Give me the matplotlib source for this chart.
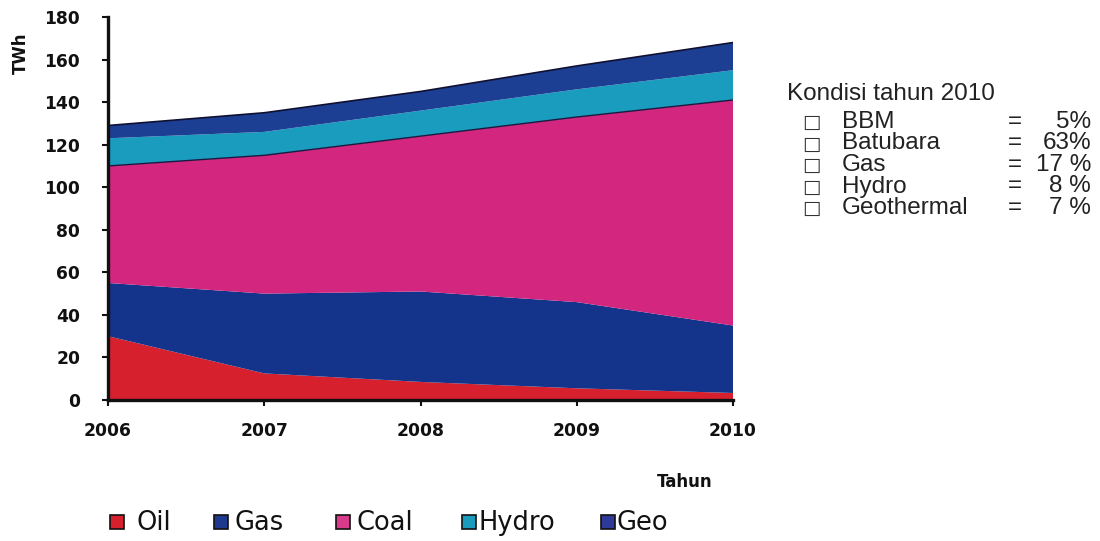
import matplotlib
matplotlib.use("Agg")
import matplotlib.pyplot as plt
from matplotlib.patches import Rectangle
import numpy as np

# ---- data ----
years = [2006, 2007, 2008, 2009, 2010]
oil = [30, 12.5, 8.5, 5.5, 3.3]
gas = [25, 37.5, 42.5, 40.5, 31.7]
coal = [55, 65, 73, 87, 106]
hydro = [13, 11, 12, 13, 14]
geo = [6, 9, 9, 11, 13]
series_names = ["Oil", "Gas", "Coal", "Hydro", "Geo"]
colors = ["#d7202e", "#14338a", "#d2267f", "#1a9cbf", "#1c3f94"]
legend_colors = ["#d7202e", "#1d3a8f", "#d93a8c", "#1a9cbf", "#2d3a9a"]
yticks = [0, 20, 40, 60, 80, 100, 120, 140, 160, 180]

info_title = "Kondisi tahun 2010"
info_labels = ["BBM", "Batubara", "Gas", "Hydro", "Geothermal"]
info_values = ["5%", "63%", "17 %", "8 %", "7 %"]

W, H = 1100, 541
fig = plt.figure(figsize=(W / 100, H / 100), dpi=100)

def fx(px):
    return px / W

def fy(py):
    return (H - py) / H

ax = fig.add_axes([fx(108), fy(400), fx(733) - fx(108), fy(17) - fy(400)])
ax.stackplot(years, oil, gas, coal, hydro, geo, colors=colors, linewidth=0)
cum = np.cumsum(np.array([oil, gas, coal, hydro, geo]), axis=0)
ax.plot(years, cum[2], color="#1a1a40", lw=1.0)
ax.plot(years, cum[4], color="#101030", lw=1.2)

ax.set_xlim(2006, 2010)
ax.set_ylim(0, 180)
ax.set_xticks(years)
ax.set_yticks(yticks)
for s in ["top", "right"]:
    ax.spines[s].set_visible(False)
for s in ["left", "bottom"]:
    ax.spines[s].set_linewidth(2.4)
    ax.spines[s].set_color("#111111")
ax.tick_params(axis="y", length=4, width=1.5, pad=16, labelsize=12.3, colors="#111111")
ax.tick_params(axis="x", length=4, width=1.5, pad=12, labelsize=12.3, colors="#111111")
for lab in ax.get_xticklabels() + ax.get_yticklabels():
    lab.set_fontweight("heavy")
ax.set_zorder(2)

fig.text(fx(21), fy(53), "TWh", rotation=90, ha="center", va="center",
         fontsize=12, fontweight="heavy", color="#111111")
fig.text(fx(685), fy(482), "Tahun", ha="center", va="center",
         fontsize=12, fontweight="heavy", color="#111111")

# bottom legend
sq_x = [110, 214, 336, 462, 601]
txt_x = [136, 235, 357, 479, 617]
for name, c, sx, tx in zip(series_names, legend_colors, sq_x, txt_x):
    fig.patches.append(Rectangle((fx(sx), fy(529)), fx(14), 14 / H,
                                 transform=fig.transFigure, facecolor=c,
                                 edgecolor="#111111", lw=1.2))
    fig.text(fx(tx), fy(530), name, ha="left", va="baseline",
             fontsize=18.5, color="#111111", family="DejaVu Sans")

# right info block
fs = 17.5
fig.text(fx(787), fy(100), info_title, ha="left", va="baseline",
         fontsize=fs, family="Liberation Sans", color="#222222")
base = [128, 149.5, 171, 192.5, 214]
for lab, val, b in zip(info_labels, info_values, base):
    fig.text(fx(802), fy(b), "\u25a1", ha="left", va="baseline",
             fontsize=14, family="DejaVu Sans", color="#333333")
    fig.text(fx(842), fy(b), lab, ha="left", va="baseline",
             fontsize=fs, family="Liberation Sans", color="#222222")
    fig.text(fx(1008), fy(b), "=", ha="left", va="baseline",
             fontsize=fs, family="Liberation Sans", color="#222222")
    fig.text(fx(1091), fy(b), val, ha="right", va="baseline",
             fontsize=fs, family="Liberation Sans", color="#222222")

fig.savefig("out.png", dpi=100, facecolor="white")
